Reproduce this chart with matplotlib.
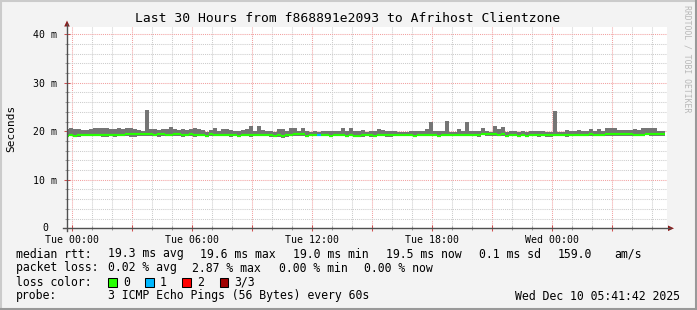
import numpy as np
import matplotlib
matplotlib.use('Agg')
import matplotlib.pyplot as plt
from matplotlib.lines import Line2D
from matplotlib.patches import Polygon, Rectangle

plt.rcParams['font.family'] = 'DejaVu Sans Mono'

W, H = 697, 310

title = 'Last 30 Hours from f868891e2093 to Afrihost Clientzone'

# 150 consolidated rows of 12 minutes, time in hours from Tue 00:00
t_first = -0.35
t_step = 0.2

# median rtt per row (ms)
median_ms = [
    19.1, 19.2, 19.0, 19.2, 19.3, 19.3, 19.3, 19.3, 19.3, 19.2,
    19.3, 19.2, 19.3, 19.3, 19.2, 19.4, 19.4, 19.4, 19.4, 19.4,
    19.4, 19.4, 19.3, 19.4, 19.4, 19.3, 19.3, 19.4, 19.4, 19.3,
    19.3, 19.4, 19.2, 19.3, 19.3, 19.0, 19.4, 19.3, 19.3, 19.3,
    19.3, 19.2, 19.2, 18.95, 19.3, 19.3, 19.3, 19.3, 19.3, 19.3,
    19.3, 19.2, 19.0, 19.2, 19.0, 19.2, 19.3, 19.4, 19.4, 19.45,
    19.0, 19.3, 19.2, 19.2, 19.3, 19.3, 19.0, 19.3, 19.3, 19.3,
    18.95, 19.2, 19.0, 19.0, 19.2, 19.2, 19.2, 19.0, 19.2, 19.2,
    19.2, 19.2, 19.2, 19.2, 19.2, 19.2, 19.2, 18.95, 19.2, 19.2,
    19.2, 19.2, 19.2, 19.0, 19.2, 19.3, 19.2, 19.2, 19.3, 19.3,
    19.3, 19.3, 19.3, 19.2, 19.5, 19.45, 19.5, 19.4, 19.3, 19.45,
    19.0, 19.2, 19.3, 18.95, 19.2, 19.0, 19.2, 19.2, 19.2, 19.2,
    19.2, 19.2, 19.3, 19.3, 19.3, 19.2, 19.2, 19.2, 19.3, 19.3,
    19.3, 19.4, 19.3, 19.3, 19.3, 19.4, 19.4, 19.4, 19.45, 19.45,
    19.45, 19.4, 19.3, 19.3, 19.3, 19.5, 19.45, 19.45, 19.45, 19.5,
]

# lowest ping per row (ms)
smoke_lo_ms = [
    18.9, 18.95, 18.85, 18.9, 19.05, 18.95, 18.95, 19.05, 18.95, 18.9,
    18.85, 18.95, 18.85, 18.95, 18.95, 18.95, 18.9, 18.9, 19.05, 18.95,
    18.95, 19.05, 18.95, 18.9, 19.05, 18.95, 18.95, 19.05, 18.95, 18.9,
    18.95, 18.95, 18.9, 18.95, 18.95, 18.75, 19.05, 18.95, 18.95, 18.95,
    18.95, 18.9, 18.95, 18.75, 18.95, 18.95, 18.9, 18.95, 18.95, 18.95,
    18.95, 18.9, 18.75, 18.9, 18.55, 18.85, 18.95, 18.95, 19.05, 19.1,
    18.85, 18.95, 18.95, 18.95, 18.95, 18.95, 18.85, 18.95, 18.95, 18.95,
    18.75, 18.95, 18.75, 18.75, 18.9, 18.95, 18.9, 18.85, 18.95, 18.95,
    18.9, 18.9, 18.95, 18.95, 18.95, 18.95, 18.95, 18.85, 18.95, 18.95,
    18.95, 18.95, 18.95, 18.85, 18.95, 18.95, 18.95, 18.95, 19.05, 18.95,
    18.95, 18.95, 18.95, 18.9, 19.2, 19.05, 19.1, 18.95, 18.95, 19.05,
    18.85, 18.95, 18.95, 18.75, 18.95, 18.75, 18.95, 18.95, 18.9, 18.95,
    18.9, 18.9, 18.95, 18.95, 18.95, 18.9, 18.95, 18.95, 19.05, 19.05,
    18.95, 19.05, 18.95, 18.95, 19.05, 19.05, 19.1, 19.05, 19.05, 19.1,
    19.05, 18.95, 18.95, 18.95, 18.95, 19.2, 18.95, 18.95, 19.05, 19.1,
]

# highest ping per row (ms)
smoke_hi_ms = [
    20.4, 20.7, 20.55, 20.5, 20.35, 20.3, 20.4, 20.7, 20.7, 20.7,
    20.6, 20.4, 20.55, 20.7, 20.4, 20.7, 20.6, 20.55, 20.35, 20.0,
    24.4, 20.4, 20.5, 20.35, 20.55, 20.4, 20.9, 20.4, 20.3, 20.4,
    20.3, 20.4, 20.75, 20.4, 20.3, 19.8, 20.3, 20.6, 20.15, 20.55,
    20.55, 20.3, 20.0, 20.15, 20.3, 20.5, 21.1, 20.15, 21.1, 20.3,
    20.15, 20.0, 19.8, 20.55, 20.55, 20.15, 20.7, 20.7, 20.15, 20.7,
    20.0, 19.8, 20.15, 19.8, 20.15, 20.0, 20.15, 20.15, 20.15, 20.7,
    20.15, 20.7, 20.15, 20.0, 20.35, 19.95, 20.0, 20.15, 20.5, 20.3,
    20.0, 20.15, 20.0, 19.95, 19.95, 19.95, 20.15, 20.15, 20.0, 20.15,
    20.5, 22.0, 20.15, 20.15, 20.15, 22.2, 19.85, 19.85, 20.5, 20.0,
    22.0, 20.0, 20.0, 20.15, 20.7, 20.15, 19.8, 21.1, 20.5, 20.9,
    19.8, 20.15, 20.0, 19.95, 20.0, 19.8, 20.0, 20.0, 20.15, 20.15,
    19.8, 19.8, 24.25, 19.8, 19.8, 20.3, 20.0, 20.0, 20.3, 20.15,
    20.15, 20.5, 20.15, 20.5, 20.15, 20.7, 20.7, 20.7, 20.35, 20.3,
    20.3, 20.3, 20.5, 20.35, 20.7, 20.6, 20.6, 20.6, 20.0, 20.0,
]

# rows that lost pings
loss_rows = [63]
loss_counts = [1]

x_ticks_h = [0, 3, 6, 9, 12, 15, 18, 21, 24, 27]
x_labels = ['Tue 00:00', '', 'Tue 06:00', '', 'Tue 12:00', '',
            'Tue 18:00', '', 'Wed 00:00', '']
y_ticks_ms = [0, 10, 20, 30, 40]
y_labels = ['', '10 m', '20 m', '30 m', '40 m']

loss_names = ['0', '1', '2', '3/3']
loss_colors = ['#26ff00', '#00b8ff', '#ff0000', '#a00000']

rtt_stats = ['19.3 ms avg', '19.6 ms max', '19.0 ms min', '19.5 ms now',
             '0.1 ms sd', '159.0', 'am/s']
loss_stats = ['0.02 % avg', '2.87 % max', '0.00 % min', '0.00 % now']
probe_text = '3 ICMP Echo Pings (56 Bytes) every 60s'
stamp_text = 'Wed Dec 10 05:41:42 2025'


# helpers to place things in image pixels (origin top-left)
def fx(x):
    return x / W


def fy(y):
    return 1 - y / H


fig = plt.figure(figsize=(W / 100, H / 100), dpi=100, facecolor='#f3f3f3')

# canvas: 600 px wide from x=67, 0 at y=228.3, 10 ms = 48.5 px
ax = fig.add_axes([fx(67), fy(228.3), 600 / W, (228.3 - 27) / H])
ax.set_facecolor('white')
ax.set_xlim(-0.25, 29.75)
ax.set_ylim(0, 41.5)
for s in ax.spines.values():
    s.set_visible(False)

# grid
ax.set_xticks(x_ticks_h, x_labels)
ax.set_xticks(np.arange(0, 30, 1), minor=True)
ax.set_yticks(y_ticks_ms, y_labels)
ax.set_yticks(np.arange(0, 42, 2), minor=True)
ax.grid(which='minor', color='#cccccc', linestyle=(0, (1, 1)), linewidth=0.75, zorder=0)
ax.grid(which='major', color='#f2a0a0', linestyle=(0, (1, 1)), linewidth=0.75, zorder=0)
ax.set_axisbelow(True)
ax.tick_params(which='major', direction='inout', length=4, width=0.75, color='#d05050',
               labelsize=7.1, pad=3)
ax.tick_params(which='minor', direction='inout', length=3, width=0.75, color='#a0a0a0')
ax.tick_params(axis='y', pad=5)

ax.annotate('0', xy=(0, 0), xycoords=('axes fraction', 'data'), xytext=(-19, 0),
            textcoords='offset pixels', ha='right', va='center', fontsize=7.1)

# smoke and median
edges = t_first + t_step * np.arange(len(median_ms) + 1)
ax.stairs(smoke_hi_ms, edges, baseline=smoke_lo_ms, fill=True, color='#757575',
          linewidth=0, zorder=2)

row_colors = [loss_colors[0]] * len(median_ms)
for r, c in zip(loss_rows, loss_counts):
    row_colors[r] = loss_colors[c]
ax.hlines(median_ms, edges[:-1], edges[1:], colors=row_colors, linewidth=1.6,
          capstyle='butt', zorder=3)

# axes with arrows
fig.add_artist(Line2D([fx(67), fx(67)], [fy(231), fy(24)], color='#505050', lw=1.0))
fig.add_artist(Line2D([fx(63), fx(670)], [fy(228.3), fy(228.3)], color='#505050', lw=1.0))
fig.add_artist(Polygon([(fx(64.2), fy(26.5)), (fx(69.8), fy(26.5)), (fx(67), fy(20.5))],
                       closed=True, color='#8b1a1a', lw=0))
fig.add_artist(Polygon([(fx(668), fy(225.5)), (fx(668), fy(231.1)), (fx(674), fy(228.3))],
                       closed=True, color='#8b1a1a', lw=0))

# texts
fig.text(fx(348), fy(19), title, ha='center', va='center', fontsize=9.4)
fig.text(fx(11), fy(128), 'Seconds', rotation=90, ha='center', va='center', fontsize=8)
fig.text(fx(687), fy(5), 'RRDTOOL / TOBI OETIKER', rotation=270, ha='center', va='top',
         fontsize=5.9, color='#b8b8b8')

lfs = 8.3
fig.text(fx(16), fy(254), 'median rtt:', va='center', fontsize=lfs)
for s, x in zip(rtt_stats, [107.6, 200, 293, 386, 479, 558, 614]):
    fig.text(fx(x), fy(254), s, va='center', fontsize=lfs)

fig.text(fx(16), fy(268), 'packet loss:', va='center', fontsize=lfs)
for s, x in zip(loss_stats, [107.6, 192.4, 279, 364.4]):
    fig.text(fx(x), fy(268), s, va='center', fontsize=lfs)

fig.text(fx(16), fy(282), 'loss color:', va='center', fontsize=lfs)
for name, col, x in zip(loss_names, loss_colors, [108, 145, 182, 219.5]):
    fig.add_artist(Rectangle((fx(x), fy(286.5)), 8.5 / W, 8.5 / H, facecolor=col,
                             edgecolor='black', lw=0.75))
    fig.text(fx(x + 15), fy(282), name, va='center', fontsize=lfs)

fig.text(fx(16), fy(296), 'probe:', va='center', fontsize=lfs)
fig.text(fx(107.6), fy(296), probe_text, va='center', fontsize=lfs)
fig.text(fx(680), fy(296), stamp_text, ha='right', va='center', fontsize=lfs)

# border shading
fig.add_artist(Line2D([0, 1], [fy(0.5), fy(0.5)], color='#cbcbcb', lw=1.5))
fig.add_artist(Line2D([fx(0.5), fx(0.5)], [0, 1], color='#cbcbcb', lw=1.5))
fig.add_artist(Line2D([fx(696), fx(696)], [0, 1], color='#999999', lw=1.5))
fig.add_artist(Line2D([0, 1], [fy(309), fy(309)], color='#999999', lw=1.5))

fig.savefig('out.png', dpi=100, facecolor=fig.get_facecolor())
